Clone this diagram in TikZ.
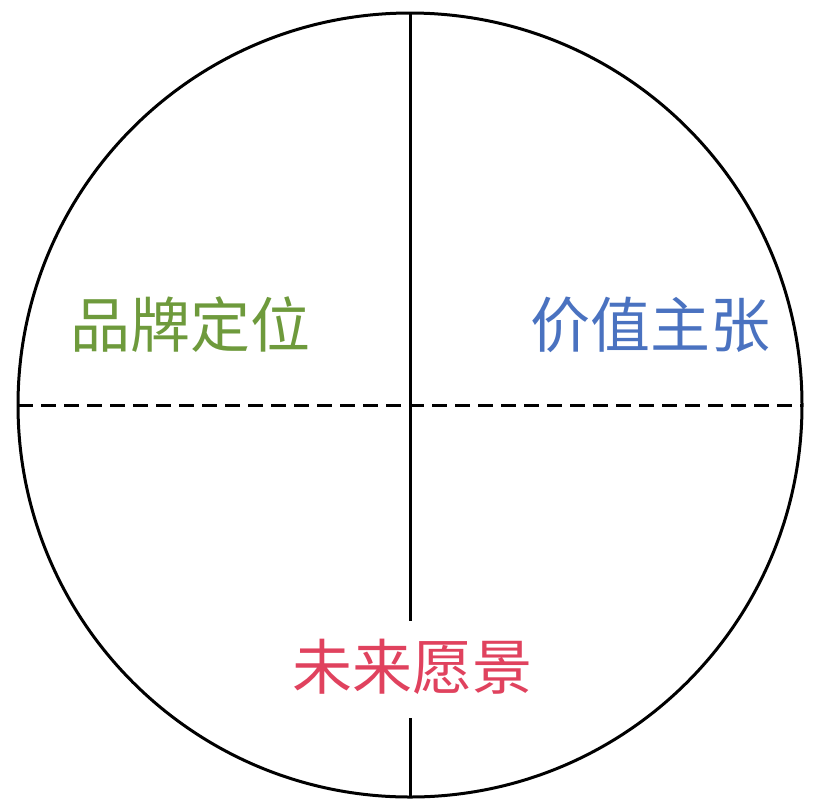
\documentclass[tikz,border=0pt]{standalone}
\usepackage{fontspec}
\newfontfamily\cjk{Noto Sans CJK SC}
\definecolor{brandgreen}{HTML}{6E9A3C}
\definecolor{valueblue}{HTML}{4A72C0}
\definecolor{visionred}{HTML}{E0425E}
\begin{document}
\begin{tikzpicture}[x=1pt,y=-1pt]
\useasboundingbox (0,0) rectangle (816,807);
\tikzset{label/.style={font=\cjk\fontsize{60}{60}\selectfont, inner sep=0pt}}

\draw [line width=3pt, draw=black] (410,405) circle (392);

\coordinate (top) at (410,13);
\coordinate (bottom) at (410,797);
\coordinate (left) at (18,405);
\coordinate (right) at (802,405);
\coordinate (gapa) at (410,621);
\coordinate (gapb) at (410,718);

\draw [line width=3pt] (top) -- (gapa);
\draw [line width=3pt] (gapb) -- (bottom);
\draw [line width=3pt, dash pattern=on 15pt off 8pt] (left) -- (right);

\node[label, text=brandgreen] (brand) at (190, 325) {品牌定位};
\node[label, text=valueblue] (value) at (650, 325) {价值主张};
\node[label, text=visionred] (vision) at (412, 667) {未来愿景};
\end{tikzpicture}
\end{document}
